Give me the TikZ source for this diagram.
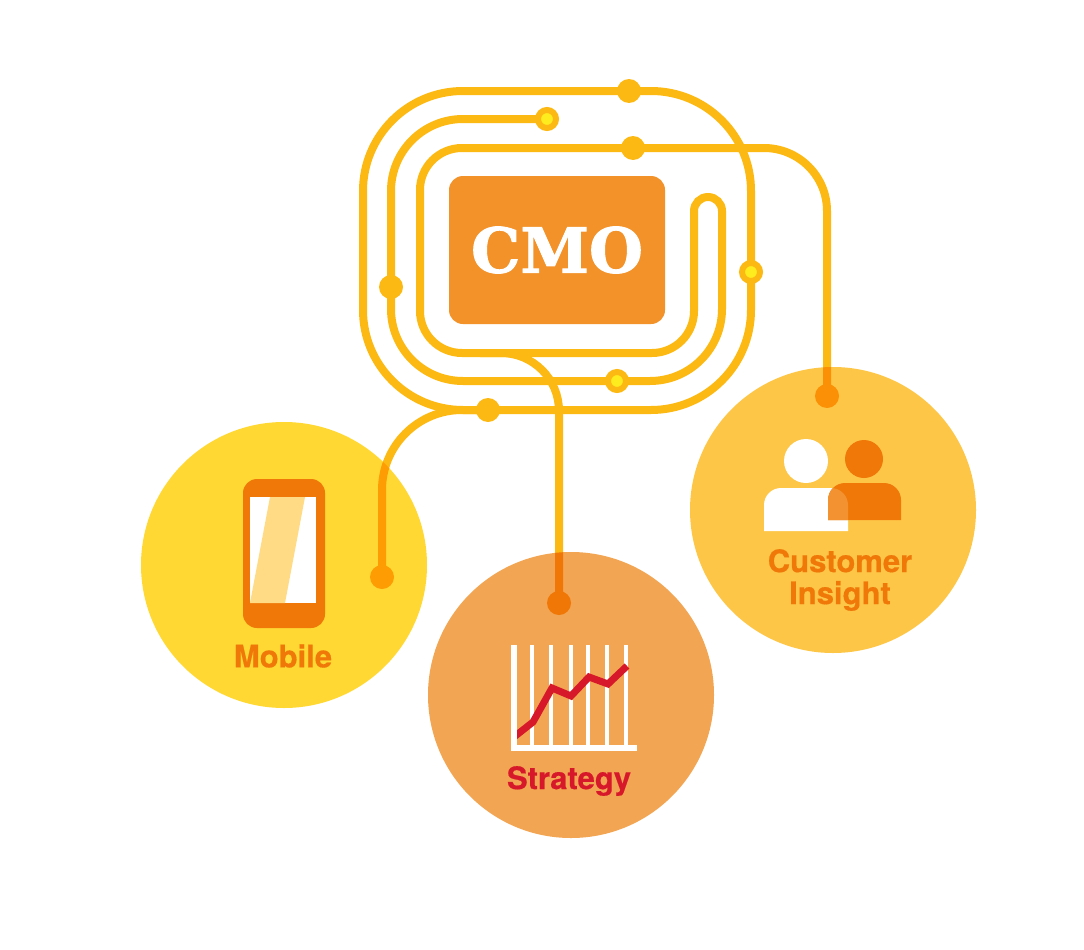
\documentclass[tikz,border=0pt]{standalone}
\usepackage{fontspec}
\setmainfont[BoldFeatures={FakeBold=0.5}]{TeX Gyre Heros}
\newfontfamily\cmofont[BoldFeatures={FakeBold=1.5}]{DejaVu Serif}
\usetikzlibrary{backgrounds}
\definecolor{wire}{HTML}{FDB913}
\definecolor{yolk}{HTML}{FFEC1F}
\definecolor{boxorange}{HTML}{F29229}
\definecolor{mobilefill}{HTML}{FFD833}
\definecolor{strategyfill}{HTML}{F2A552}
\definecolor{insightfill}{HTML}{FDC647}
\definecolor{iconorange}{HTML}{EF7809}
\definecolor{chartred}{HTML}{D7182A}
\definecolor{stripe}{HTML}{FFDB85}
\definecolor{overlap}{HTML}{F29230}
\tikzset{
    wireline/.style={draw=wire, line width=8pt},
    dot/.style={circle, fill=wire, inner sep=0pt, minimum size=24pt},
    ringdot/.style={circle, draw=wire, fill=yolk, line width=6pt, inner sep=0pt, minimum size=18pt},
    topic/.style={circle, inner sep=0pt, minimum size=286pt, blend mode=multiply},
    toptext/.style={font=\bfseries\fontsize{31}{32}\selectfont, align=center, inner sep=0pt}
}
\begin{document}
\begin{tikzpicture}[x=1pt, y=-1pt]
                \useasboundingbox (0,0) rectangle (1084,950);
                \node[dot] (topDot) at (629,91) {};
                \node[dot] (innerDot) at (633,148) {};
                \node[dot] (leftDot) at (391,287) {};
                \node[dot] (bottomDot) at (488,410) {};
                \node[ringdot] (startDot) at (547,119) {};
                \node[ringdot] (rightDot) at (751,272) {};
                \node[ringdot] (lowerDot) at (617,381) {};
                \node[dot] (mobileDot) at (382,577) {};
                \node[dot] (strategyDot) at (559,603) {};
                \node[dot] (insightDot) at (827,396) {};
                \coordinate (turnRight) at (722,197);
                \coordinate (turnLeft) at (694,197);
                \coordinate (innerLow) at (694,353);
                \coordinate (innerCorner) at (420,353);
                \coordinate (innerTop) at (420,148);
                \coordinate (forkStart) at (480,353);
                \begin{scope}[on background layer]
                    \node[draw=wire, line width=8pt, rounded corners=100pt, minimum width=388pt, minimum height=319pt, inner sep=0pt] (outerLoop) at (557,250.5) {};
                    \draw[wireline, rounded corners=72pt] (startDot.center) -- (startDot -| leftDot) -- (leftDot |- lowerDot) -- (turnRight |- lowerDot) [rounded corners=14pt] -- (turnRight) -- (turnLeft) [rounded corners=42pt] -- (innerLow) -- (innerCorner) -- (innerTop) -- (innerDot.center);
                    \draw[wireline, rounded corners=63pt] (innerDot.center) -| (insightDot.center);
                    \draw[wireline, rounded corners=58pt] (forkStart) -| (strategyDot.center);
                    \draw[wireline, rounded corners=80pt] (bottomDot.center) -| (mobileDot.center);
                \end{scope}
                \node[topic, fill=mobilefill] (mobile) at (284,565) {};
                \node[topic, fill=strategyfill] (strategy) at (571,695) {};
                \node[topic, fill=insightfill] (insight) at (833,510) {};
                \node[fill=boxorange, rounded corners=14pt, minimum width=216pt, minimum height=148pt, inner sep=0pt] (cmo) at (557,250) {\textcolor{white}{\cmofont\bfseries\fontsize{62}{62}\selectfont CMO}};
                \fill[iconorange, rounded corners=14pt] (243,479) rectangle (325,628);
                \fill[white] (250,497) rectangle (316,603);
                \fill[stripe] (270,497) -- (305,497) -- (285,603) -- (250,603) -- cycle;
                \node[toptext, text=iconorange] (mobileText) at (283,656) {Mobile};
                \foreach \gridx in {532,551,571,588,607,626}
                    \fill[white] (\gridx-2,645) rectangle (\gridx+2,745);
                \draw[chartred, line width=7pt] (514,737) -- (533,722) -- (552,688) -- (571,696) -- (589,677) -- (608,684) -- (627,666);
                \fill[white] (511,645) rectangle (517,751);
                \fill[white] (511,745) rectangle (637,751);
                \node[toptext, text=chartred] (strategyText) at (569,781) {Strategy};
                \fill[white] (806,461) circle (22);
                \fill[white] (764,531) [rounded corners=17pt] -- (764,488) -- (848,488) [sharp corners] -- (848,531) -- cycle;
                \fill[iconorange] (864,459) circle (19);
                \fill[iconorange] (828,520) [rounded corners=17pt] -- (828,483) -- (901,483) [sharp corners] -- (901,520) -- cycle;
                \begin{scope}
                    \clip (764,531) [rounded corners=17pt] -- (764,488) -- (848,488) [sharp corners] -- (848,531) -- cycle;
                    \fill[overlap] (828,520) [rounded corners=17pt] -- (828,483) -- (901,483) [sharp corners] -- (901,520) -- cycle;
                \end{scope}
                \node[toptext, text=iconorange] (insightText) at (840,580) {Customer\\Insight};
            \end{tikzpicture}
\end{document}
